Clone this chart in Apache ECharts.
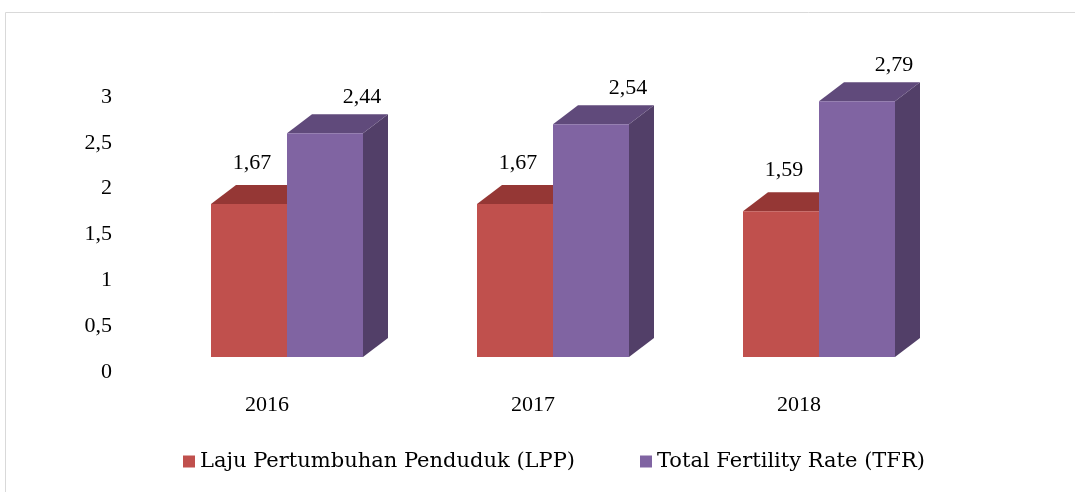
<!DOCTYPE html>
<html><head><meta charset="utf-8">
<script src="https://cdn.jsdelivr.net/npm/echarts@6/dist/echarts.min.js"></script>
<style>html,body{margin:0;padding:0;background:#fff}#c{width:1075px;height:492px}</style>
</head><body><div id="c"></div>
<script>
const categories = ['2016', '2017', '2018'];
const lppValues = [1.67, 1.67, 1.59];
const tfrValues = [2.44, 2.54, 2.79];
const yTicks = ['0', '0,5', '1', '1,5', '2', '2,5', '3'];
const seriesNames = ['Laju Pertumbuhan Penduduk (LPP)', 'Total Fertility Rate (TFR)'];

const FONT = 'Liberation Serif';
const LEGEND_FONT = 'DejaVu Serif';
const DX = 25, DY = -19, BASE_OFF = -15, BAR_W = 76, PAIR_SHIFT = 20;
const palettes = [
  { front: '#C0504D', top: '#953735', side: '#772C2A', labelDx: 3, labelDy: -41 },
  { front: '#8064A2', top: '#604A7B', side: '#523F68', labelDx: 37, labelDy: -36 }
];

function makeRender(si) {
  return function (params, api) {
    const ci = api.value(0), v = api.value(1);
    const c0 = api.coord([ci, 0]);
    const cv = api.coord([ci, v]);
    const pal = palettes[si];
    const pairLeft = c0[0] + PAIR_SHIFT - BAR_W;
    const x0 = pairLeft + si * BAR_W, x1 = x0 + BAR_W;
    const yb = c0[1] + BASE_OFF, yt = cv[1] + BASE_OFF;
    const front = [[x0, yb], [x1, yb], [x1, yt], [x0, yt]];
    const top = [[x0, yt], [x1, yt], [x1 + DX, yt + DY], [x0 + DX, yt + DY]];
    const side = [[x1, yb], [x1 + DX, yb + DY], [x1 + DX, yt + DY], [x1, yt]];
    const label = String(v.toFixed(2)).replace('.', ',');
    return {
      type: 'group',
      children: [
        { type: 'polygon', shape: { points: side }, style: { fill: pal.side } },
        { type: 'polygon', shape: { points: top }, style: { fill: pal.top } },
        { type: 'polygon', shape: { points: front }, style: { fill: pal.front } },
        { type: 'text', style: { text: label, x: (x0 + x1) / 2 + pal.labelDx, y: yt + pal.labelDy,
            align: 'center', verticalAlign: 'middle', fill: '#000', font: '22px "' + FONT + '"' } }
      ]
    };
  };
}

const chart = echarts.init(document.getElementById('c'), null, { renderer: 'canvas' });
chart.setOption({
  animation: false,
  backgroundColor: '#fff',
  graphic: [{ type: 'rect', shape: { x: 5.5, y: 12.5, width: 1200, height: 600 }, style: { fill: 'none', stroke: '#d9d9d9', lineWidth: 1 }, silent: true }],
  grid: { left: 134, right: 1075 - 932, top: 97, height: 275 },
  legend: {
    left: 178, top: 446, icon: 'rect', itemWidth: 12, itemHeight: 12, itemGap: 65,
    textStyle: { fontFamily: LEGEND_FONT, fontSize: 21, color: '#000' },
    data: seriesNames
  },
  xAxis: {
    type: 'category', data: categories,
    axisLine: { show: false }, axisTick: { show: false }, splitLine: { show: false },
    axisLabel: { fontFamily: FONT, fontSize: 22, color: '#000', margin: 22 }
  },
  yAxis: {
    type: 'value', min: 0, max: 3, interval: 0.5,
    axisLine: { show: false }, axisTick: { show: false }, splitLine: { show: false },
    axisLabel: { fontFamily: FONT, fontSize: 22, color: '#000', margin: 22,
      formatter: function (v) { return yTicks[Math.round(v * 2)]; } }
  },
  series: [
    { name: seriesNames[0], type: 'custom', renderItem: makeRender(0), itemStyle: { color: palettes[0].front },
      data: lppValues.map((v, i) => [i, v]), encode: { x: 0, y: 1 } },
    { name: seriesNames[1], type: 'custom', renderItem: makeRender(1), itemStyle: { color: palettes[1].front },
      data: tfrValues.map((v, i) => [i, v]), encode: { x: 0, y: 1 } }
  ]
});
</script></body></html>
